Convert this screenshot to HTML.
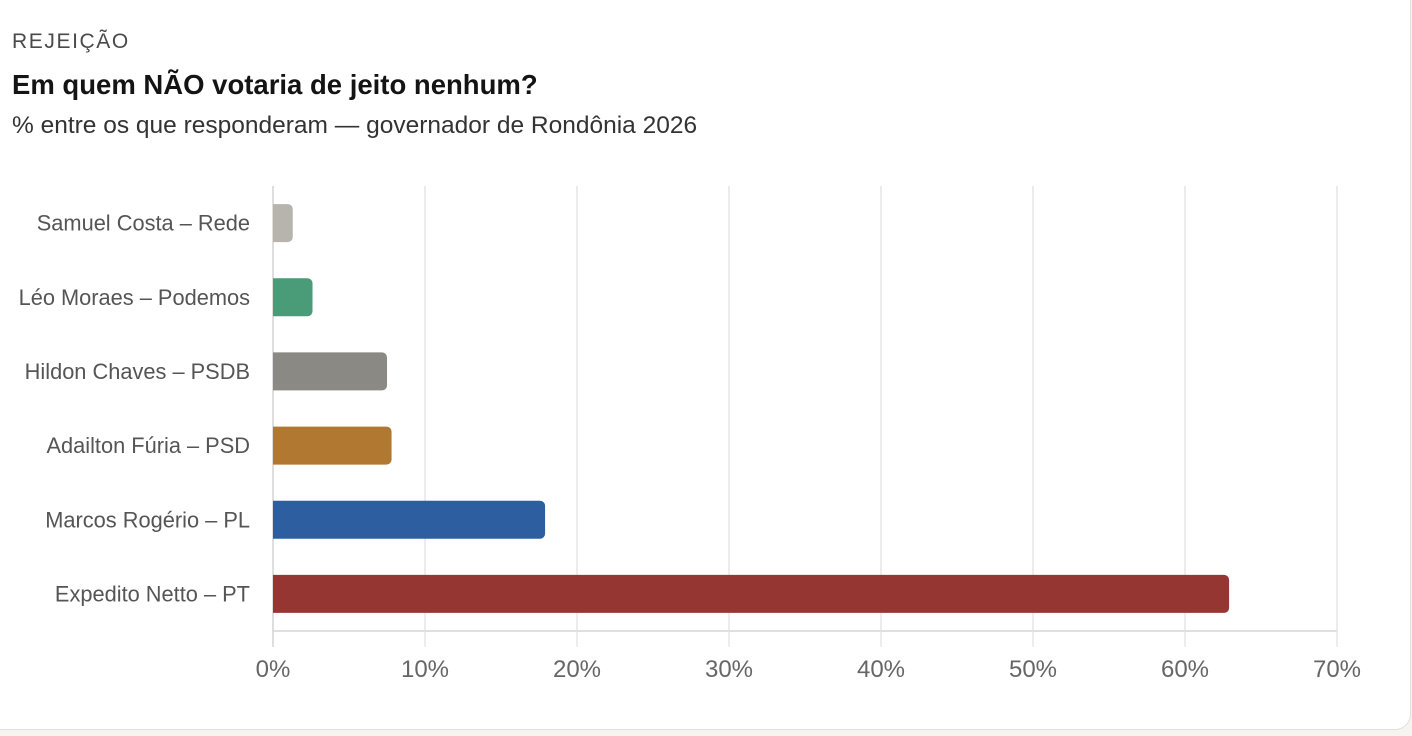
<!DOCTYPE html>
<html><head><meta charset="utf-8"><style>
body{margin:0;width:1412px;height:736px;background:#f6f4ef;overflow:hidden;font-family:"Liberation Sans",sans-serif;}
#card{position:absolute;left:-20px;top:-20px;width:1429px;height:748px;background:#fff;border:1px solid #e2e0db;border-radius:16px;}
.t{position:absolute;left:12px;white-space:nowrap;}
</style></head><body>
<div id="card"></div>
<div class="t" style="top:30px;font-size:21px;letter-spacing:1.6px;color:#4a4a4a;">REJEIÇÃO</div>
<div class="t" style="top:69px;font-size:27.5px;font-weight:bold;color:#141414;">Em quem NÃO votaria de jeito nenhum?</div>
<div class="t" style="top:112px;font-size:24.5px;color:#333;">% entre os que responderam — governador de Rondônia 2026</div>
<svg id="chart" width="1412" height="736" style="position:absolute;left:0;top:0"></svg>
<script>
const categories=["Samuel Costa – Rede","Léo Moraes – Podemos","Hildon Chaves – PSDB","Adailton Fúria – PSD","Marcos Rogério – PL","Expedito Netto – PT"];
const values=[1.3,2.6,7.5,7.8,17.9,62.9];
const colors=["#b7b4ae","#4a9c78","#8a8984","#b07830","#2d5ea0","#963632"];
const ticks=[0,10,20,30,40,50,60,70];
const tickLabels=["0%","10%","20%","30%","40%","50%","60%","70%"];
const svg=document.getElementById('chart');const NS="http://www.w3.org/2000/svg";
const x0=273,x1=1337,yTop=186,yBot=631;
const xs=v=>x0+(v-0)/(70-0)*(x1-x0);
const band=(yBot-yTop)/categories.length;
const yc=i=>yTop+band*(i+0.5);
function mk(t,a){const e=document.createElementNS(NS,t);for(const k in a)e.setAttribute(k,a[k]);svg.appendChild(e);return e;}
ticks.forEach((t,i)=>{
 const g=mk('line',{x1:xs(t),x2:xs(t),y1:yTop,y2:yBot+16,stroke:'#e6e6e6','stroke-width':1.5});
 
 
 const l=mk('text',{x:xs(t),y:yBot+46,'text-anchor':'middle','font-size':24,fill:'#666','font-family':'Liberation Sans, sans-serif'});
 l.textContent=tickLabels[i];
 
 
});
const ax=mk('line',{x1:x0,x2:x1,y1:yBot,y2:yBot,stroke:'#e0e0e0','stroke-width':2});


const ay=mk('line',{x1:x0,x2:x0,y1:yTop,y2:yBot+16,stroke:'#d8d8d8','stroke-width':1.5});


categories.forEach((c,i)=>{
 const h=38,w=xs(values[i])-x0;
 const r=mk('path',{d:`M${x0},${yc(i)-h/2} h${w-5} a5,5 0 0 1 5,5 v${h-10} a5,5 0 0 1 -5,5 h${-(w-5)} z`,fill:colors[i]});
 
 
 const t=mk('text',{x:250,y:yc(i)+7.5,'text-anchor':'end','font-size':21.8,fill:'#555','font-family':'Liberation Sans, sans-serif'});
 t.textContent=c;
 
 
});
</script>
</body></html>
